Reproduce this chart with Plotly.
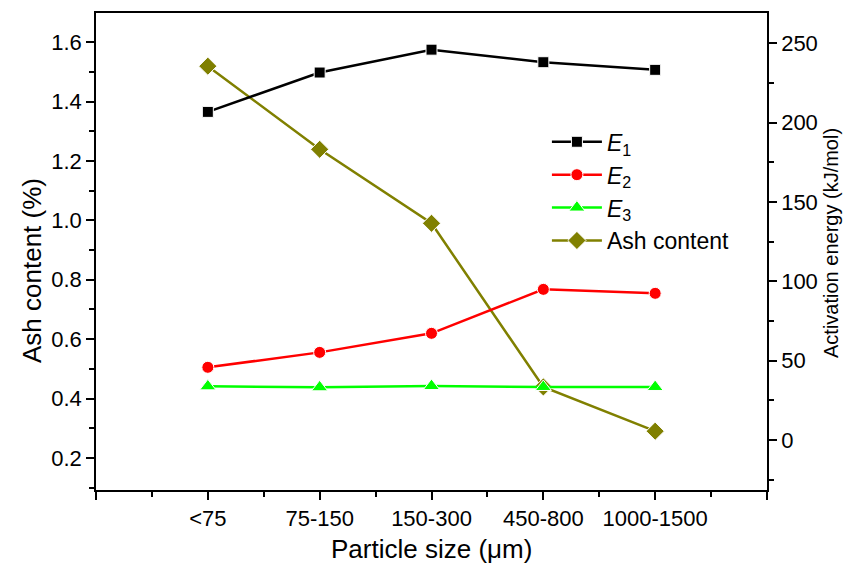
import plotly.graph_objects as go

categories = ["<75", "75-150", "150-300", "450-800", "1000-1500"]
positions = [1, 2, 3, 4, 5]
e1 = [206.7, 231.5, 245.9, 238.0, 233.2]
e2 = [45.8, 55.2, 67.2, 94.9, 92.4]
e3 = [33.8, 33.2, 34.0, 33.4, 33.4]
ash = [1.519, 1.239, 0.990, 0.439, 0.290]

FONT = "Liberation Sans, Arial, sans-serif"

fig = go.Figure()

def add(y, name, color, symbol, size, axis):
    fig.add_trace(go.Scatter(
        x=positions, y=y, name=name, mode="lines+markers", yaxis=axis,
        line=dict(color=color, width=2.5),
        marker=dict(symbol=symbol, size=size, color=color,
                    line=dict(color="white", width=1)),
    ))

add(e1, "<i>E</i><sub>1</sub>", "black", "square", 11, "y2")
add(e2, "<i>E</i><sub>2</sub>", "#FF0000", "circle", 12, "y2")
add(e3, "<i>E</i><sub>3</sub>", "#00FF00", "triangle-up", 14, "y2")
add(ash, "Ash content", "#808000", "diamond", 14, "y")

tickfont = dict(family=FONT, size=22, color="black")

fig.update_layout(
    width=845, height=569,
    margin=dict(l=96, r=78, t=13, b=79),
    plot_bgcolor="white", paper_bgcolor="white",
    showlegend=True,
    legend=dict(x=0.672, y=0.775, xanchor="left", yanchor="top",
                bgcolor="rgba(0,0,0,0)", font=dict(family=FONT, size=23, color="black"),
                traceorder="normal", tracegroupgap=0, itemwidth=50),
    xaxis=dict(
        range=[0, 6], tickmode="array", tickvals=[0, 1, 2, 3, 4, 5, 6],
        ticktext=[""] + categories + [""],
        showline=True, linecolor="black", linewidth=1.5, mirror=True,
        ticks="outside", ticklen=8, tickwidth=1.5, tickcolor="black",
        showgrid=False, zeroline=False, tickfont=tickfont,
        minor=dict(tickvals=[0.5, 1.5, 2.5, 3.5, 4.5, 5.5], ticks="outside",
                   ticklen=5, tickwidth=1.5, tickcolor="black", showgrid=False),
    ),
    yaxis=dict(
        range=[0.092, 1.698], tick0=0.2, dtick=0.2, tickformat=".1f",
        showline=True, linecolor="black", linewidth=1.5,
        ticks="outside", ticklen=8, tickwidth=1.5, tickcolor="black",
        showgrid=False, zeroline=False, tickfont=tickfont,
        minor=dict(dtick=0.1, ticks="outside", ticklen=5, tickwidth=1.5,
                   tickcolor="black", showgrid=False),
    ),
    yaxis2=dict(
        range=[-31.5, 269], tick0=0, dtick=50, overlaying="y", side="right",
        showline=True, linecolor="black", linewidth=1.5,
        ticks="outside", ticklen=8, tickwidth=1.5, tickcolor="black",
        showgrid=False, zeroline=False, tickfont=tickfont,
        minor=dict(dtick=25, ticks="outside", ticklen=5, tickwidth=1.5,
                   tickcolor="black", showgrid=False),
    ),
    annotations=[
        dict(text="Particle size (\u03bcm)", xref="paper", yref="paper",
             x=0.5, y=(490 - 549) / 477, xanchor="center", yanchor="middle", showarrow=False,
             font=dict(family=FONT, size=26, color="black")),
        dict(text="Ash content (%)", xref="paper", yref="paper",
             x=(32 - 96) / 671, y=(490 - 271) / 477, xanchor="center", yanchor="middle",
             textangle=-90, showarrow=False,
             font=dict(family=FONT, size=26, color="black")),
        dict(text="Activation energy (kJ/mol)", xref="paper", yref="paper",
             x=(831 - 96) / 671, y=(490 - 243) / 477, xanchor="center", yanchor="middle",
             textangle=-90, showarrow=False,
             font=dict(family=FONT, size=20, color="black")),
    ],
)

fig.write_html("out.html")
